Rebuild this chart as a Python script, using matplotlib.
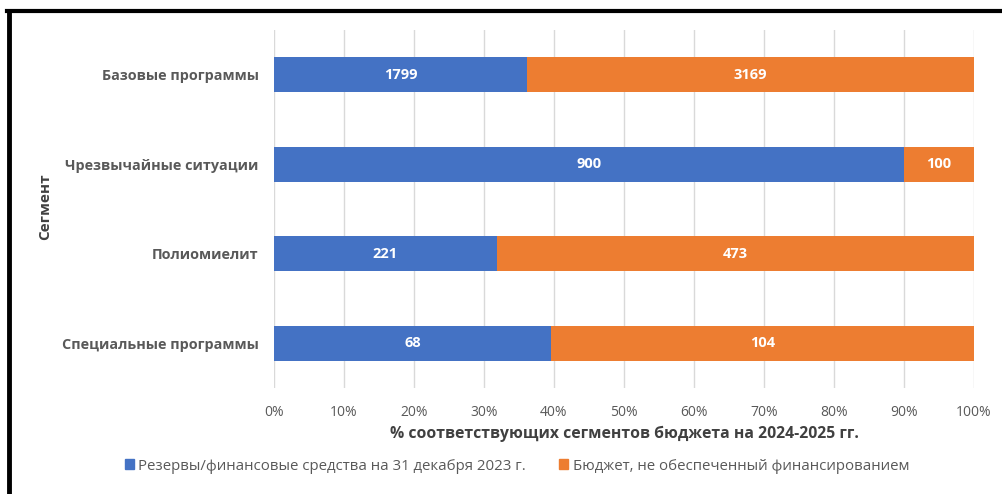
import matplotlib.pyplot as plt
from matplotlib.lines import Line2D
from matplotlib.ticker import PercentFormatter

segments = ["Базовые программы", "Чрезвычайные ситуации", "Полиомиелит", "Специальные программы"]
reserves = [1799, 900, 221, 68]
unfunded = [3169, 100, 473, 104]

blue = "#4472C4"
orange = "#ED7D31"
grey = "#595959"

fig = plt.figure(figsize=(10.02, 4.94), dpi=100)
ax = fig.add_axes([274/1002, 1-388/494, 700/1002, 358/494])

ypos = list(range(len(segments)))[::-1]
tot = [a + b for a, b in zip(reserves, unfunded)]
p1 = [a / t for a, t in zip(reserves, tot)]
p2 = [b / t for b, t in zip(unfunded, tot)]

b1 = ax.barh(ypos, p1, height=0.39, color=blue, zorder=3)
b2 = ax.barh(ypos, p2, left=p1, height=0.39, color=orange, zorder=3)
ax.bar_label(b1, labels=[str(v) for v in reserves], label_type="center",
             color="white", fontweight="bold", fontsize=10.5, family="Open Sans")
ax.bar_label(b2, labels=[str(v) for v in unfunded], label_type="center",
             color="white", fontweight="bold", fontsize=10.5, family="Open Sans")

ax.set_xlim(0, 1)
ax.set_ylim(-0.5, 3.5)
ax.set_xticks([i / 10 for i in range(11)])
ax.xaxis.set_major_formatter(PercentFormatter(1.0, decimals=0))
ax.set_yticks(ypos)
ax.set_yticklabels(segments, fontsize=10.4, fontweight="bold", color=grey, family="Open Sans")
for lab in ax.get_xticklabels():
    lab.set_fontsize(10)
    lab.set_color(grey)
    lab.set_family("Open Sans")
ax.grid(axis="x", color="#D9D9D9", lw=1, zorder=0)
for s in ax.spines.values():
    s.set_visible(False)
ax.tick_params(axis="x", length=0, pad=12)
ax.tick_params(axis="y", length=0, pad=11)

fig.text(624/1002, 1-434/494, "% соответствующих сегментов бюджета на 2024-2025 гг.",
         ha="center", va="center", fontsize=11.3, fontweight="bold", color="#404040", family="Open Sans")
fig.text(45/1002, 1-207/494, "Сегмент", rotation=90, ha="center", va="center",
         fontsize=11, fontweight="bold", color="#404040", family="Open Sans")

handles = [plt.Rectangle((0, 0), 1, 1, color=blue), plt.Rectangle((0, 0), 1, 1, color=orange)]
fig.legend(handles, ["Резервы/финансовые средства на 31 декабря 2023 г.",
                     "Бюджет, не обеспеченный финансированием"],
           loc="center", bbox_to_anchor=(517/1002, 1-466/494), ncol=2, frameon=False,
           handlelength=0.6, handleheight=0.6, handletextpad=0.3, columnspacing=2.2,
           prop={"family": "Open Sans", "size": 10.8}, labelcolor=grey)

fig.add_artist(Line2D([9/1002, 9/1002], [0, 1-11/494], color="black", lw=3.5, transform=fig.transFigure))
fig.add_artist(Line2D([7/1002, 1], [1-11/494, 1-11/494], color="black", lw=3, transform=fig.transFigure))

fig.savefig("out.png", dpi=100)
